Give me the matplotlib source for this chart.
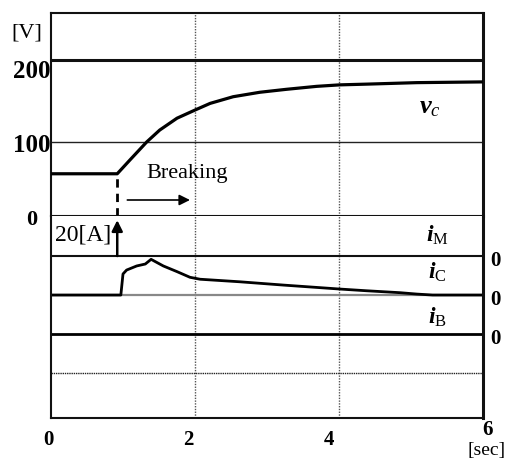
import matplotlib.pyplot as plt
from matplotlib.transforms import offset_copy

plt.rcParams["font.family"] = ["Liberation Serif", "DejaVu Serif"]
plt.rcParams["mathtext.fontset"] = "custom"
plt.rcParams["mathtext.rm"] = "Liberation Serif"
plt.rcParams["mathtext.it"] = "Liberation Serif:italic:bold"
plt.rcParams["mathtext.sf"] = "Liberation Serif:italic"
plt.rcParams["mathtext.bf"] = "Liberation Serif:bold"


# ---------------------------------------------------
# DATA
# ---------------------------------------------------

# capacitor voltage v_C [V]
t_vc = [0.0, 0.92, 1.10, 1.33, 1.51, 1.75, 2.0, 2.21, 2.53, 2.90,
        3.27, 3.69, 4.01, 4.39, 5.08, 6.0]
vc = [57, 57, 76, 100, 116, 132, 143, 152, 161, 167,
      171, 175, 177, 178, 180, 181]

# capacitor current i_C [A]
t_ic = [0.0, 0.97, 1.0, 1.05, 1.19, 1.31, 1.39, 1.56, 1.75, 1.93,
        2.07, 2.62, 3.23, 4.0, 4.38, 4.85, 5.08, 5.3, 6.0]
ic = [0, 0, 10.8, 12.8, 14.9, 15.9, 18.3, 14.9, 12.0, 9.1,
      8.1, 6.8, 5.1, 3.1, 2.2, 1.2, 0.5, 0, 0]

# motor and battery currents stay at zero [A]
t_im = [0.0, 6.0]
im = [0, 0]
t_ib = [0.0, 6.0]
ib = [0, 0]

# scope channel offsets on the current panel [A]
ch_offset = {"iM": 20, "iC": 0, "iB": -20}
t_break = 0.92
x_ticks = [0, 2, 4, 6]
v_ticks = [0, 100, 200]


# ---------------------------------------------------
# FIGURE
# ---------------------------------------------------

fig = plt.figure(figsize=(5.1, 4.61), dpi=100)
ax_v = fig.add_axes([51 / 510, 1 - 216 / 461, 432 / 510, 203 / 461])
ax_i = fig.add_axes([51 / 510, 1 - 418 / 461, 432 / 510, 202 / 461])

for ax in (ax_v, ax_i):
    ax.set_xlim(0, 6)
    ax.tick_params(length=0, labelleft=False, labelbottom=False)
    for s in ax.spines.values():
        s.set_color("#111111")
        s.set_linewidth(1.5)
    ax.spines["right"].set_linewidth(2.2)
    for xv in (2, 4):
        ax.axvline(xv, color="#555555", lw=1, ls=(0, (1, 1)), zorder=1)

ax_v.set_ylim(0, 274)
ax_i.set_ylim(-63, 40.5)
ax_i.spines["top"].set_visible(False)

# horizontal grid
ax_v.axhline(211, color="#111111", lw=2.2, zorder=1)
ax_v.axhline(100, color="#222222", lw=1, zorder=1)
ax_i.axhline(ch_offset["iC"], color="#888888", lw=1.6, zorder=1)
ax_i.axhline(-40, color="#222222", lw=1, ls=(0, (1, 0.6)), zorder=1)

# traces
ax_v.plot(t_vc, vc, color="black", lw=2.3, zorder=3)
ax_i.plot(t_im, [ch_offset["iM"] + v for v in im], color="#111111", lw=1.5)
ax_i.plot(t_ic, [ch_offset["iC"] + v for v in ic], color="black", lw=2)
ax_i.plot(t_ib, [ch_offset["iB"] + v for v in ib], color="black", lw=2)

# breaking start marker
ax_v.plot([t_break, t_break], [0, vc[1]], color="black", lw=2,
          dashes=(3, 2.2))
ax_i.annotate("", xy=(t_break, 40.5), xytext=(t_break, ch_offset["iM"]),
              arrowprops=dict(arrowstyle="-|>", color="black", lw=1.8,
                              shrinkA=0, shrinkB=3, mutation_scale=16))
ax_i.text(0.84, 30.8, "20[A]", ha="right", va="center", fontsize=17)

ax_v.text(1.33, 58, "Breaking", ha="left", va="center", fontsize=16)
ax_v.annotate("", xy=(1.93, 21.6), xytext=(1.06, 21.6),
              arrowprops=dict(arrowstyle="-|>", color="black", lw=1.2,
                              shrinkA=0, shrinkB=0, mutation_scale=16))

# trace labels
ax_v.text(5.26, 146, r"$v_{\mathsf{c}}$", ha="center", va="center",
          fontsize=19)
ax_i.text(5.37, 30.5, r"$i_{\mathrm{M}}$", ha="center", va="center",
          fontsize=17)
ax_i.text(5.37, 11.5, r"$i_{\mathrm{C}}$", ha="center", va="center",
          fontsize=17)
ax_i.text(5.37, -11.5, r"$i_{\mathrm{B}}$", ha="center", va="center",
          fontsize=17)

# right-hand channel zero labels
tr_r = offset_copy(ax_i.get_yaxis_transform(), fig=fig, x=7, y=-5,
                   units="dots")
for key in ("iM", "iC", "iB"):
    ax_i.text(1, ch_offset[key], "0", transform=tr_r, ha="left",
              va="center", fontsize=15, fontweight="bold")

# voltage axis labels
tr_l = offset_copy(ax_v.get_yaxis_transform(), fig=fig, x=-19, y=-4,
                   units="dots")
for v in v_ticks:
    ax_v.text(0, v, str(v), transform=tr_l, ha="center", va="center",
              fontsize=18 if v else 16, fontweight="bold")
fig.text(27 / 510, 1 - 33 / 461, "[V]", ha="center", va="center",
         fontsize=16)

# time axis labels
x_shift = {0: -3, 2: -7, 4: -10, 6: 5}
for xv in x_ticks:
    dy = -12 if xv == 6 else -22
    tr_b = offset_copy(ax_i.get_xaxis_transform(), fig=fig, x=x_shift[xv],
                       y=dy, units="dots")
    ax_i.text(xv, 0, str(xv), transform=tr_b, ha="center", va="center",
              fontsize=15, fontweight="bold")
tr_s = offset_copy(ax_i.get_xaxis_transform(), fig=fig, x=4, y=-32,
                   units="dots")
ax_i.text(6, 0, "[sec]", transform=tr_s, ha="center", va="center",
          fontsize=14)

fig.savefig("out.png", dpi=100)
